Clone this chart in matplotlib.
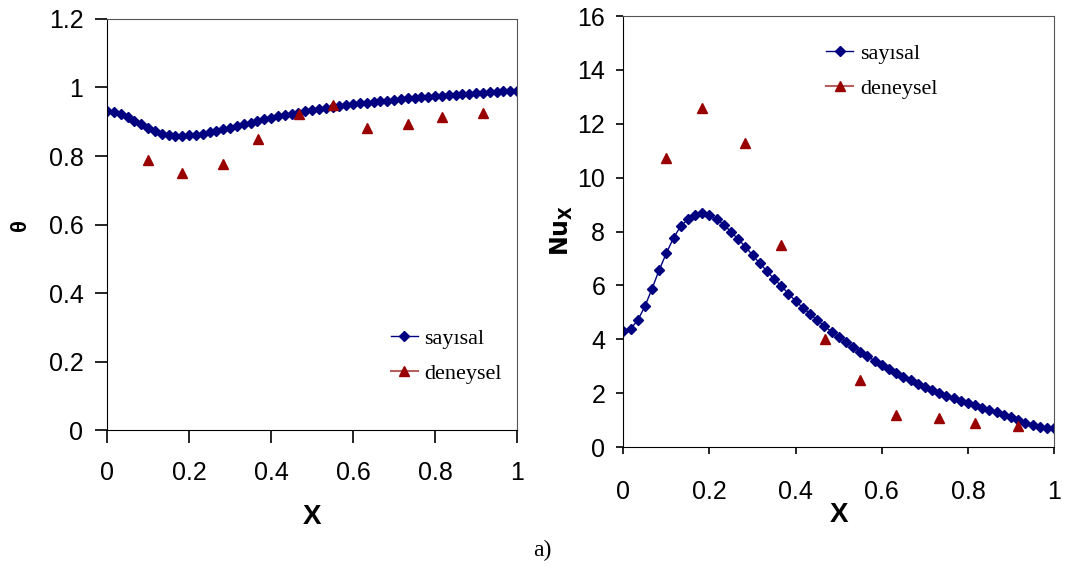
import numpy as np
import matplotlib
matplotlib.use('Agg')
import matplotlib.pyplot as plt
from matplotlib.lines import Line2D
from matplotlib.ticker import FuncFormatter

plt.rcParams['font.family'] = ['Liberation Sans', 'DejaVu Sans']

# numerical solution grid (61 nodes along X)
x_num = np.arange(61) / 60.0

theta_num = [0.930, 0.929, 0.923, 0.915, 0.903, 0.893, 0.882, 0.872, 0.865, 0.860,
             0.858, 0.858, 0.860, 0.862, 0.865, 0.869, 0.874, 0.878, 0.883, 0.888,
             0.893, 0.897, 0.903, 0.908, 0.912, 0.916, 0.920, 0.923, 0.927, 0.931,
             0.934, 0.937, 0.941, 0.944, 0.946, 0.949, 0.951, 0.954, 0.956, 0.958,
             0.960, 0.962, 0.964, 0.966, 0.968, 0.970, 0.972, 0.973, 0.975, 0.976,
             0.977, 0.979, 0.980, 0.981, 0.983, 0.984, 0.986, 0.987, 0.989, 0.990,
             0.991]

nu_num = [4.29, 4.39, 4.70, 5.22, 5.88, 6.58, 7.20,
          7.77, 8.20, 8.46, 8.62, 8.67, 8.60, 8.45, 8.25, 7.99, 7.71, 7.44,
          7.12, 6.82, 6.53, 6.24, 5.98, 5.69, 5.42, 5.17, 4.95, 4.71,
          4.49, 4.28, 4.10, 3.90, 3.71, 3.54, 3.37, 3.20, 3.04, 2.90,
          2.75, 2.61, 2.49, 2.35, 2.23, 2.12, 2.00, 1.90, 1.81, 1.72,
          1.63, 1.55, 1.46, 1.37, 1.29, 1.20, 1.10, 1.01, 0.90, 0.81,
          0.74, 0.71, 0.69]

# experimental points
x_exp = [0.10, 0.183, 0.283, 0.367, 0.467, 0.55, 0.633, 0.733, 0.817, 0.917]
theta_exp = [0.787, 0.751, 0.777, 0.851, 0.922, 0.949, 0.881, 0.892, 0.914, 0.925]
nu_exp = [10.72, 12.57, 11.27, 7.50, 4.00, 2.50, 1.20, 1.09, 0.88, 0.78]

blue = '#000080'
red = '#990000'

fig = plt.figure(figsize=(10.67, 5.67), dpi=100)
ax1 = fig.add_axes([0.1003, 0.2416, 0.3843, 0.7249])
ax2 = fig.add_axes([0.5842, 0.2116, 0.4037, 0.7601])

fmt = FuncFormatter(lambda v, p: '%g' % round(v, 2))

# legend handles (excel-like: line through the marker)
handles = [Line2D([], [], color=blue, lw=1, marker='D', markersize=5),
           Line2D([], [], color='#b86060', lw=1.5, marker='^', markersize=7,
                  markerfacecolor=red, markeredgecolor=red)]
labels = ['sayısal', 'deneysel']


def style(ax, xpad, ticklen):
    for s in ['top', 'right']:
        ax.spines[s].set_color('#555555')
    for s in ['left', 'bottom']:
        ax.spines[s].set_color('black')
    ax.tick_params(axis='both', labelsize=18, direction='out', length=ticklen, width=1.2)
    ax.tick_params(axis='x', pad=xpad)
    ax.tick_params(axis='y', pad=8)
    ax.set_xlim(0, 1)
    ax.set_xticks([0, 0.2, 0.4, 0.6, 0.8, 1])
    ax.xaxis.set_major_formatter(fmt)


# left: theta
ax1.plot(x_num, theta_num, color=blue, marker='D', markersize=5, lw=1)
ax1.plot(x_exp, theta_exp, color=red, marker='^', markersize=7, lw=0)
ax1.set_ylim(0, 1.2)
ax1.set_yticks([0, 0.2, 0.4, 0.6, 0.8, 1.0, 1.2])
ax1.yaxis.set_major_formatter(fmt)
style(ax1, 13, 9)
ax1.set_xlabel('X', fontsize=20, fontweight='bold', labelpad=14)
ax1.set_ylabel('θ', fontsize=16, fontweight='bold')
ax1.yaxis.set_label_coords(-0.185, 0.5)
ax1.legend(handles, labels, loc='upper left', bbox_to_anchor=(0.3477, 0.4568),
           bbox_transform=fig.transFigure, frameon=False,
           prop={'family': 'Liberation Serif', 'size': 16},
           handlelength=1.2, handletextpad=0.3, labelspacing=0.65)

# right: Nu_x
ax2.plot(x_num, nu_num, color=blue, marker='D', markersize=5, lw=1)
ax2.plot(x_exp, nu_exp, color=red, marker='^', markersize=7, lw=0)
ax2.set_ylim(0, 16)
ax2.set_yticks(range(0, 17, 2))
style(ax2, 19, 5)
ax2.set_xlabel('X', fontsize=20, fontweight='bold', labelpad=-2)
ax2.set_ylabel(r'$\mathbf{Nu_X}$', fontsize=17)
ax2.yaxis.set_label_coords(-0.112, 0.503)
ax2.legend(handles, labels, loc='upper left', bbox_to_anchor=(0.7558, 0.9588),
           bbox_transform=fig.transFigure, frameon=False,
           prop={'family': 'Liberation Serif', 'size': 16},
           handlelength=1.2, handletextpad=0.3, labelspacing=0.65)

fig.text(0.508, 0.011, 'a)', fontsize=17, family='Liberation Serif', ha='center', va='bottom')

fig.savefig('out.png', dpi=100)
